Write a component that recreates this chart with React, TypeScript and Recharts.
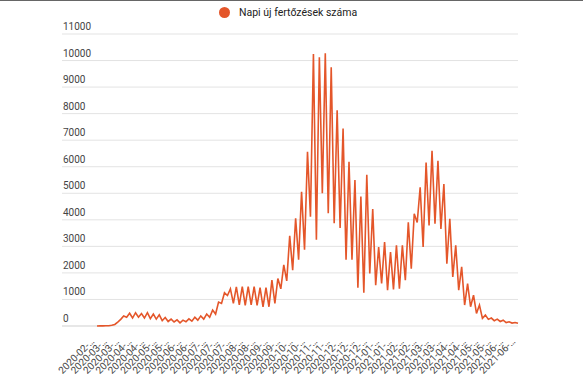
import { CartesianGrid, Line, LineChart, XAxis, YAxis } from 'recharts'

// two readings per weekly cycle (low, high)
const cases = [
  0, 5, 5, 10, 10, 25, 60, 150, 250, 380,
  330, 480, 300, 500, 330, 470, 300, 500, 280, 450,
  260, 420, 200, 320, 170, 260, 150, 230, 120, 220,
  160, 270, 180, 330, 220, 380, 260, 450, 330, 600,
  450, 900, 850, 1250, 1150, 1400, 850, 1475, 800, 1480,
  780, 1480, 800, 1480, 780, 1450, 725, 1450, 725, 1725,
  850, 1790, 1400, 2300, 1700, 3400, 2100, 4060, 2500, 5060,
  2870, 6560, 4120, 10250, 3250, 10125, 5000, 10275, 4250, 9750,
  3875, 8125, 3690, 7440, 2500, 6190, 2500, 5500, 1440, 4875,
  1250, 5700, 1975, 4410, 1540, 2975, 1600, 3160, 1350, 2790,
  1375, 3040, 1410, 3040, 1725, 3910, 2160, 4225, 3900, 5225,
  2975, 6160, 3790, 6600, 3850, 6225, 3660, 5350, 2350, 4040,
  1850, 3040, 1350, 2225, 790, 1600, 725, 1160, 475, 790,
  290, 410, 250, 300, 200, 260, 170, 220, 130, 160,
  110, 130, 100,
]

const tickDates = [
  '2020-02-26', '2020-03-11', '2020-03-25', '2020-04-08', '2020-04-22', '2020-05-06',
  '2020-05-20', '2020-06-03', '2020-06-17', '2020-07-01', '2020-07-15', '2020-07-29',
  '2020-08-12', '2020-08-26', '2020-09-09', '2020-09-23', '2020-10-07', '2020-10-21',
  '2020-11-04', '2020-11-18', '2020-12-02', '2020-12-16', '2020-12-30', '2021-01-13',
  '2021-01-27', '2021-02-10', '2021-02-24', '2021-03-10', '2021-03-24', '2021-04-07',
  '2021-04-21', '2021-05-05', '2021-05-19', '2021-06-02', '2021-06-16',
]

const yTicks = [0, 1000, 2000, 3000, 4000, 5000, 6000, 7000, 8000, 9000, 10000, 11000]

const SERIES = 'Napi új fertőzések száma'
const COLOR = '#e4562a'
const FONT = 'Roboto, "Noto Sans", sans-serif'

const data = cases.map((v, i) => ({ i, v }))
const last = cases.length - 1
const xTicks = tickDates.map((_, k) => (k * last) / (tickDates.length - 1))

function YTick({ y, payload }: any) {
  return (
    <g>
      <line x1={62} x2={97} y1={y} y2={y} stroke={payload.value === 0 ? '#cfcfcf' : '#e3e3e3'} />
      <text x={63} y={y - 4} fontSize={10} fill="#444" fontFamily={FONT}>
        {payload.value}
      </text>
    </g>
  )
}

function XTick({ x, payload }: any) {
  const k = Math.round((payload.value * (tickDates.length - 1)) / last)
  const label = tickDates[k].slice(0, 8) + '…'
  return (
    <text
      x={x - 2}
      y={341}
      textAnchor="end"
      fontSize={10}
      fill="#444"
      fontFamily={FONT}
      transform={`rotate(-45 ${x - 2} 341)`}
    >
      {label}
    </text>
  )
}

export default function App() {
  return (
    <div style={{ position: 'absolute', left: 0, top: 0, width: 583, height: 385, background: '#fff', borderTop: '1px solid #666', boxSizing: 'border-box' }}>
      <div style={{ position: 'absolute', left: 219, top: 5, display: 'flex', alignItems: 'center', fontFamily: FONT, fontSize: 10.5, color: '#222' }}>
        <span style={{ width: 11, height: 11, borderRadius: '50%', background: COLOR, display: 'inline-block', marginRight: 9 }} />
        {SERIES}
      </div>
      <LineChart width={583} height={384} data={data} margin={{ top: 33, right: 65, left: 0, bottom: 0 }}>
        <CartesianGrid vertical={false} stroke="#e3e3e3" />
        <XAxis
          dataKey="i"
          type="number"
          domain={[0, last]}
          ticks={xTicks}
          interval={0}
          height={59}
          axisLine={false}
          tickLine={false}
          tick={<XTick />}
        />
        <YAxis
          domain={[0, 11000]}
          ticks={yTicks}
          width={97}
          axisLine={false}
          tickLine={false}
          tick={<YTick />}
        />
        <Line type="linear" dataKey="v" name={SERIES} stroke={COLOR} strokeWidth={1.6} dot={false} isAnimationActive={false} />
      </LineChart>
    </div>
  )
}
